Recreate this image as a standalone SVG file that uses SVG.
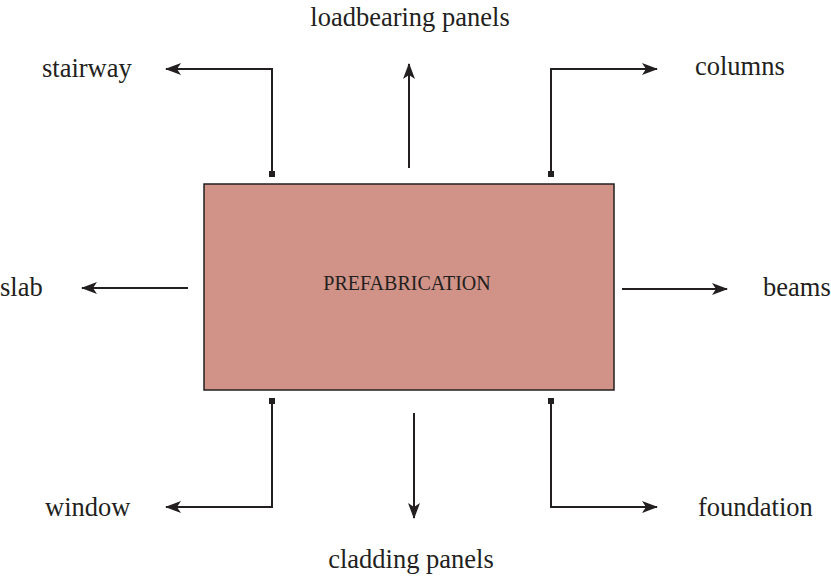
<svg xmlns="http://www.w3.org/2000/svg" width="831" height="576" viewBox="0 0 831 576">
<style>
.lbl{font-family:"Liberation Serif","Times New Roman",serif;font-size:26.5px;fill:#231f20}
.c{fill:none;stroke:#231f20;stroke-width:2}
</style>
<defs>
<marker id="ah" viewBox="0 0 16 12" refX="15" refY="6" markerWidth="16" markerHeight="12" markerUnits="userSpaceOnUse" orient="auto">
<path d="M0,0 L16,6 L0,12 L4,6 Z" fill="#231f20"/>
</marker>
<marker id="sq" viewBox="0 0 6 6" refX="3" refY="3" markerWidth="6" markerHeight="6" markerUnits="userSpaceOnUse">
<rect width="6" height="6" fill="#231f20"/>
</marker>
</defs>
<rect width="831" height="576" fill="#fff"/>
<g id="prefabrication">
<rect x="204" y="184" width="410" height="206" fill="#d19388" stroke="#231f20" stroke-width="1.5"/>
<text x="407" y="290" text-anchor="middle" font-family="Liberation Serif,Times New Roman,serif" font-size="20" fill="#231f20">PREFABRICATION</text>
</g>
<g id="connectors">
<path class="c" d="M272,174 V69 H166" marker-start="url(#sq)" marker-end="url(#ah)"/>
<path class="c" d="M409,168 V64" marker-end="url(#ah)"/>
<path class="c" d="M551,174 V69 H657" marker-start="url(#sq)" marker-end="url(#ah)"/>
<path class="c" d="M188,288 H82" marker-end="url(#ah)"/>
<path class="c" d="M622,289 H727" marker-end="url(#ah)"/>
<path class="c" d="M272,401 V507 H166" marker-start="url(#sq)" marker-end="url(#ah)"/>
<path class="c" d="M414,413 V518" marker-end="url(#ah)"/>
<path class="c" d="M551,401 V507 H657" marker-start="url(#sq)" marker-end="url(#ah)"/>
</g>
<g id="stairway"><text class="lbl" x="42" y="77">stairway</text></g>
<g id="loadbearing-panels"><text class="lbl" x="410" y="26" text-anchor="middle">loadbearing panels</text></g>
<g id="columns"><text class="lbl" x="695" y="75">columns</text></g>
<g id="slab"><text class="lbl" x="0" y="296">slab</text></g>
<g id="beams"><text class="lbl" x="763" y="296">beams</text></g>
<g id="window"><text class="lbl" x="45" y="516">window</text></g>
<g id="cladding-panels"><text class="lbl" x="411" y="568" text-anchor="middle">cladding panels</text></g>
<g id="foundation"><text class="lbl" x="698" y="516">foundation</text></g>
</svg>
